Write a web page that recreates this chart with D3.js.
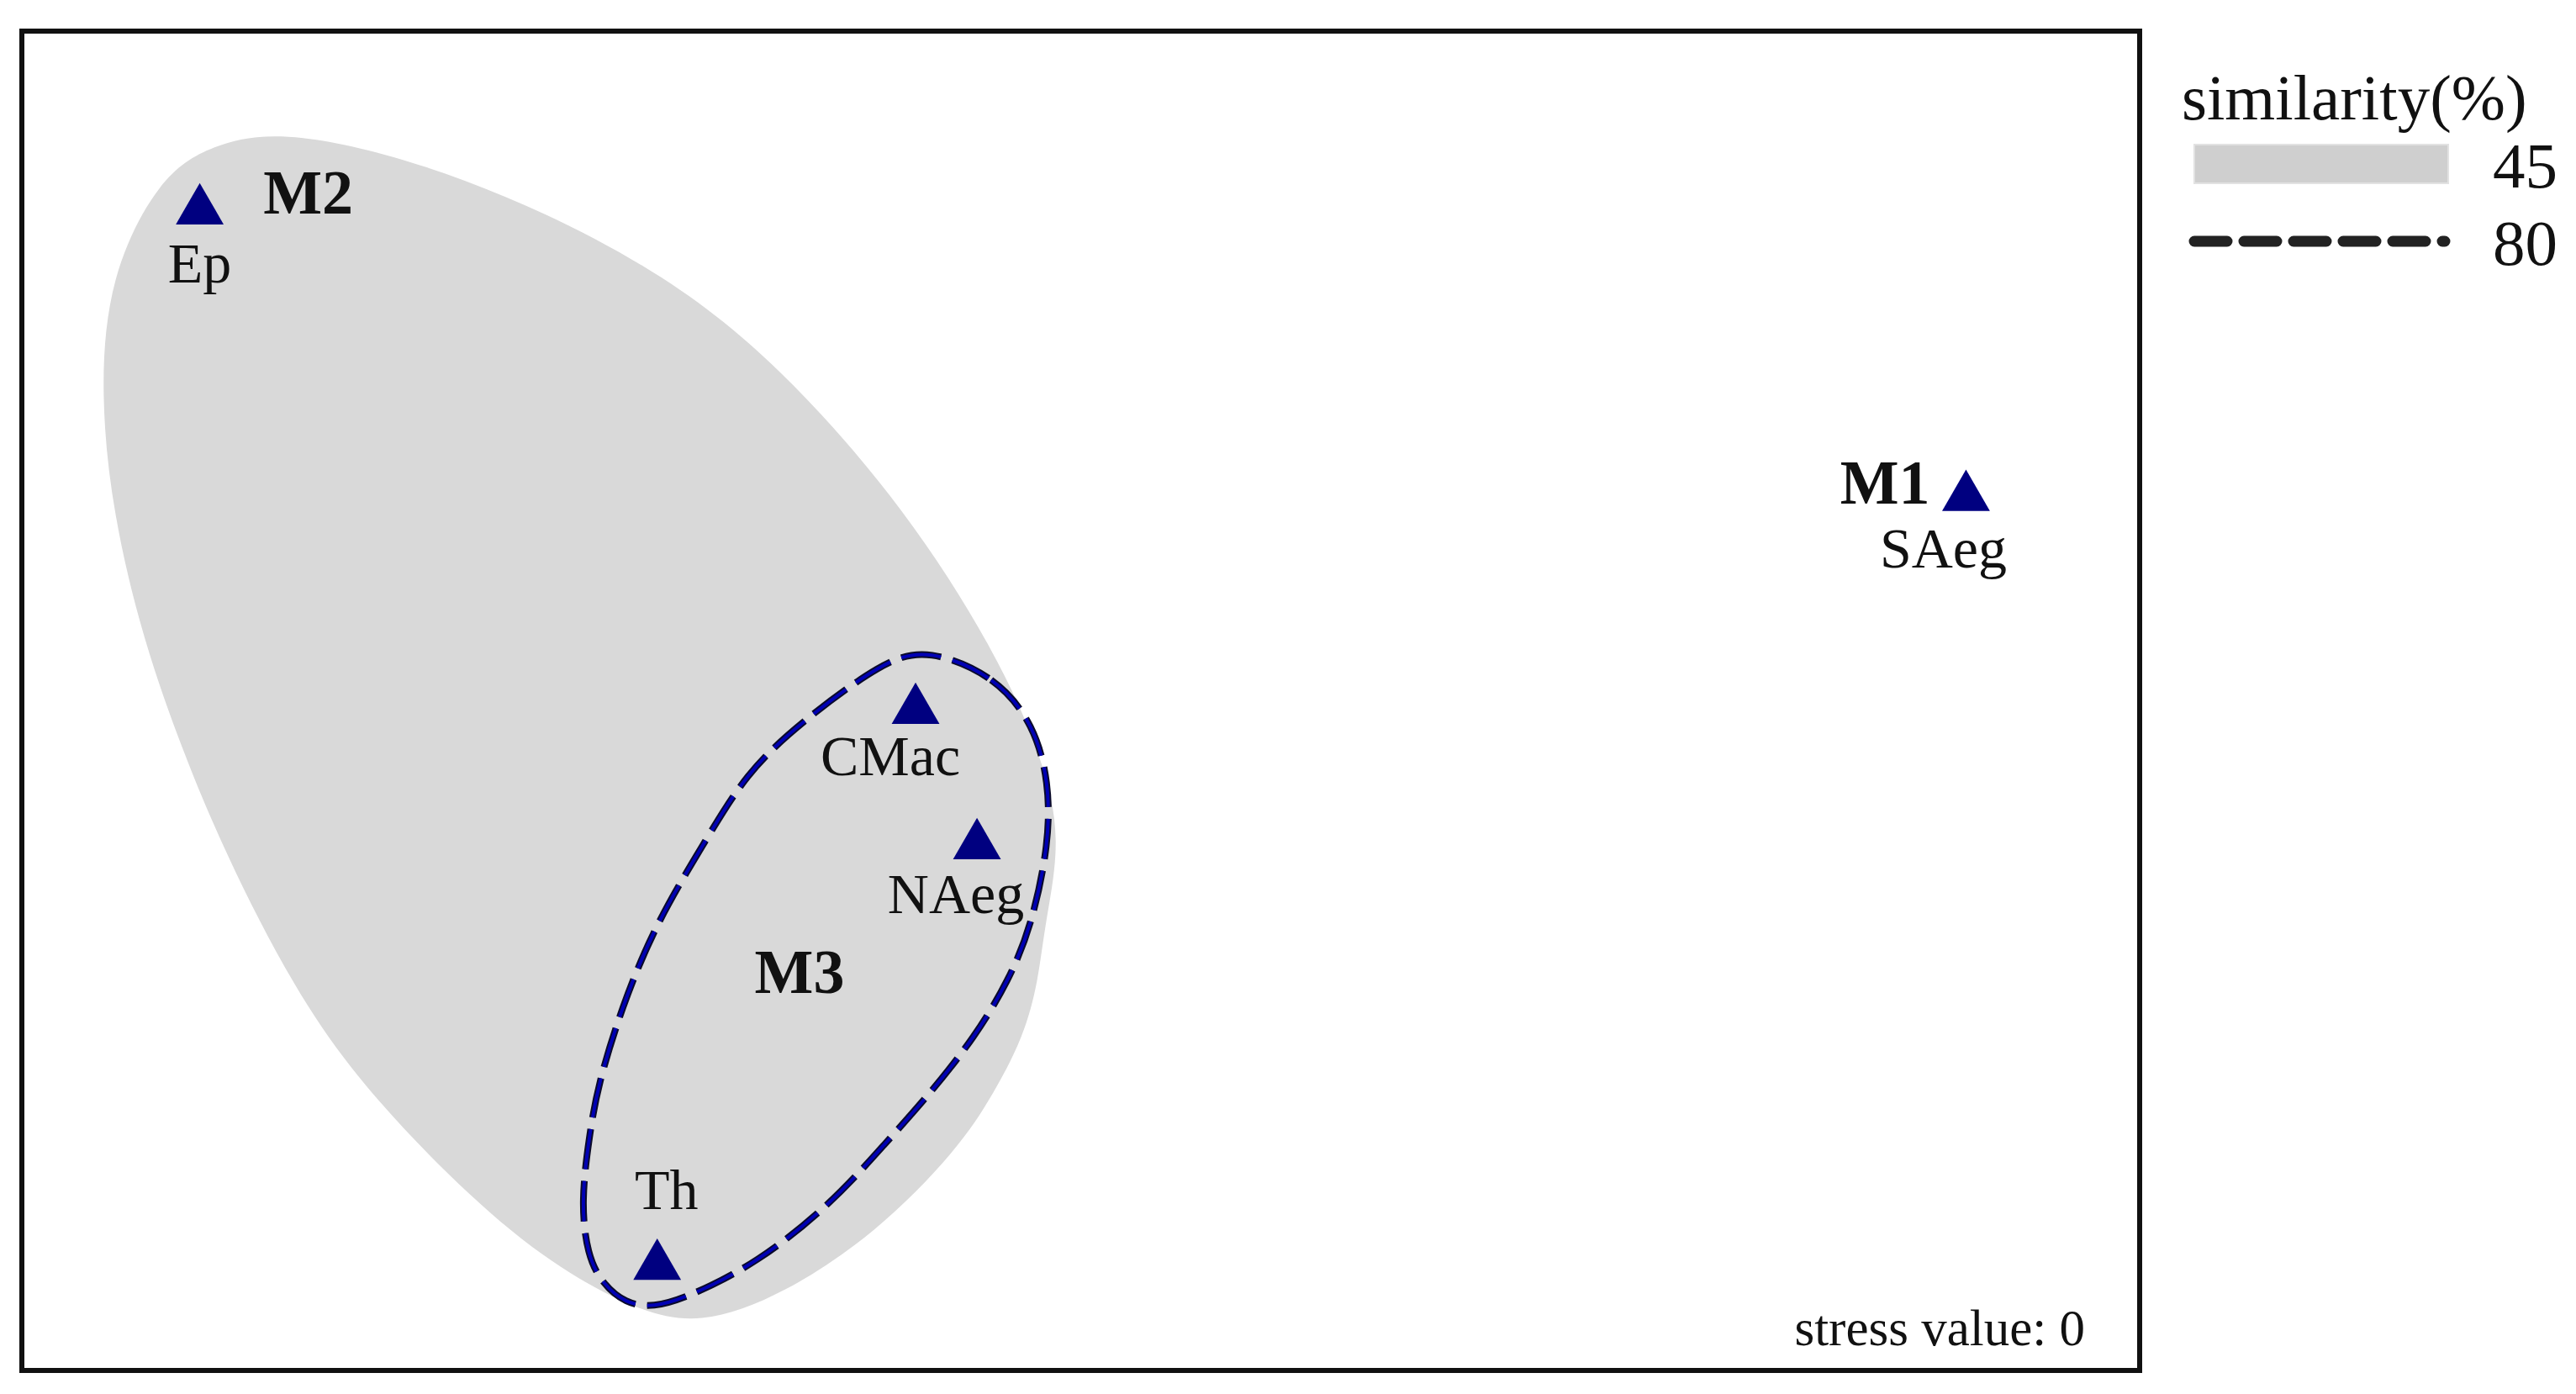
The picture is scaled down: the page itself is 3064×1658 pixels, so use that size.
<!DOCTYPE html>
<meta charset="utf-8">
<style type="text/css">
	body { margin: 0; background: #fff; }
	text { font-family: "Liberation Serif", "Times New Roman", serif; fill: #111; }
	.frame { fill: none; stroke: #111; stroke-width: 6; }
	.hull45 { fill: #d9d9d9; stroke: none; }
	.hull80-under { fill: none; stroke: #0a0a2a; stroke-width: 8; stroke-dasharray: 48 14; }
	.hull80 { fill: none; stroke: #0000b4; stroke-width: 4; stroke-dasharray: 48 14; }
	.site { fill: #000080; }
	.site-label { font-size: 68px; }
	.group-label { font-size: 74px; font-weight: bold; }
	.legend text { font-size: 77px; }
</style>
<svg width="3064" height="1658"></svg>
<script src="https://d3js.org/d3.v7.min.js"></script>
<script type="text/javascript">
	// nMDS ordination, coordinates in % of the plot frame
	var sites = ["Ep", "SAeg", "CMac", "NAeg", "Th"];
	var mdsX = [8.4, 91.8, 42.2, 45.1, 30.0];
	var mdsY = [86.6, 65.2, 49.3, 39.2, 7.8];

	// group labels
	var groups = ["M1", "M2", "M3"];
	var groupX = [90.1, 11.4, 34.6];
	var groupY = [64.7, 86.4, 28.2];

	// 45% similarity outline
	var hull45X = [12.5, 20.8, 29.8, 35.8, 41.8, 46.0, 48.2, 49.1, 48.3, 48.0, 47.3, 45.9, 44.2, 40.3, 36.0, 32.0, 28.7, 23.4, 16.3, 12.8, 9.6, 7.5, 5.7, 4.3, 3.7, 4.1, 6.5, 8.9];
	var hull45Y = [92.8, 89.4, 82.6, 75.1, 64.2, 53.6, 45.8, 39.6, 33.3, 29.1, 24.9, 20.7, 16.5, 10.2, 5.7, 3.3, 4.6, 9.4, 20.6, 28.6, 38.6, 46.6, 54.7, 63.9, 72.8, 81.7, 89.1, 91.5];

	// 80% similarity outline
	var hull80X = [42.8, 46.0, 47.8, 48.5, 48.5, 47.7, 46.6, 45.0, 42.9, 40.8, 38.2, 34.7, 31.5, 29.8, 28.5, 27.4, 26.7, 26.4, 26.8, 27.2, 28.3, 29.9, 32.3, 34.2, 36.7, 40.7];
	var hull80Y = [53.9, 51.8, 48.2, 43.9, 39.4, 33.3, 29.1, 24.9, 20.7, 17.0, 12.4, 8.0, 5.5, 4.7, 5.0, 6.5, 8.6, 12.6, 17.6, 21.3, 27.0, 33.3, 39.6, 44.6, 48.3, 53.0];

	var legendLevels = [45, 80];
	var stressValue = 0;

	var svg = d3.select("svg"),
		width = +svg.attr("width"),
		height = +svg.attr("height");

	var frameL = 26, frameT = 37, frameR = 2545, frameB = 1630;

	var x = d3.scaleLinear().domain([0, 100]).range([frameL, frameR]);
	var y = d3.scaleLinear().domain([0, 100]).range([frameB, frameT]);

	// label placement relative to the symbol (px)
	var labelOffset = {
		"Ep":   [0, 86],
		"SAeg": [-27, 84],
		"CMac": [-30, 77],
		"NAeg": [-25, 80],
		"Th":   [11, -68]
	};
	var groupAnchor = { "M1": "end", "M2": "start", "M3": "start" };

	svg.append("rect").attr("width", width).attr("height", height).attr("fill", "#fff");

	// smoothed closed outline through the traced contour points
	var outline = d3.line()
		.x(function(d){ return x(d[0]); })
		.y(function(d){ return y(d[1]); })
		.curve(d3.curveBasisClosed);

	svg.append("path").attr("class", "hull45")
		.attr("d", outline(d3.zip(hull45X, hull45Y)));

	var h80 = d3.zip(hull80X, hull80Y);
	svg.append("path").attr("class", "hull80-under").attr("d", outline(h80));
	svg.append("path").attr("class", "hull80").attr("d", outline(h80));

	svg.append("rect").attr("class", "frame")
		.attr("x", frameL).attr("y", frameT)
		.attr("width", frameR - frameL).attr("height", frameB - frameT);

	var pts = sites.map(function(s, i){ return { name: s, x: mdsX[i], y: mdsY[i] }; });

	var tri = d3.symbol().type(d3.symbolTriangle).size(1400);

	svg.append("g").selectAll("path").data(pts).enter().append("path")
		.attr("class", "site")
		.attr("d", tri)
		.attr("transform", function(d){ return "translate(" + x(d.x) + "," + y(d.y) + ")"; });

	svg.append("g").selectAll("text").data(pts).enter().append("text")
		.attr("class", "site-label")
		.attr("text-anchor", "middle")
		.attr("x", function(d){ return x(d.x) + labelOffset[d.name][0]; })
		.attr("y", function(d){ return y(d.y) + labelOffset[d.name][1]; })
		.text(function(d){ return d.name; });

	svg.append("g").selectAll("text").data(groups).enter().append("text")
		.attr("class", "group-label")
		.attr("text-anchor", function(d){ return groupAnchor[d]; })
		.attr("x", function(d, i){ return x(groupX[i]); })
		.attr("y", function(d, i){ return y(groupY[i]); })
		.text(function(d){ return d; });

	svg.append("text")
		.attr("x", 2480).attr("y", 1600)
		.attr("text-anchor", "end")
		.style("font-size", "61px")
		.text("stress value: " + stressValue);

	// legend
	var lg = svg.append("g").attr("class", "legend");
	lg.append("text").attr("x", 2595).attr("y", 142).text("similarity(%)");

	lg.append("rect")
		.attr("x", 2610).attr("y", 172).attr("width", 302).attr("height", 46)
		.attr("fill", "#cfcfcf").attr("stroke", "#e2e2e2").attr("stroke-width", 2);
	lg.append("line")
		.attr("x1", 2610).attr("x2", 2908).attr("y1", 287).attr("y2", 287)
		.attr("stroke", "#222").attr("stroke-width", 13)
		.attr("stroke-linecap", "round").attr("stroke-dasharray", "39 20");

	lg.selectAll("text.level").data(legendLevels).enter().append("text")
		.attr("class", "level")
		.attr("x", 2965)
		.attr("y", function(d, i){ return 223 + i * 92; })
		.text(function(d){ return d; });
</script>
